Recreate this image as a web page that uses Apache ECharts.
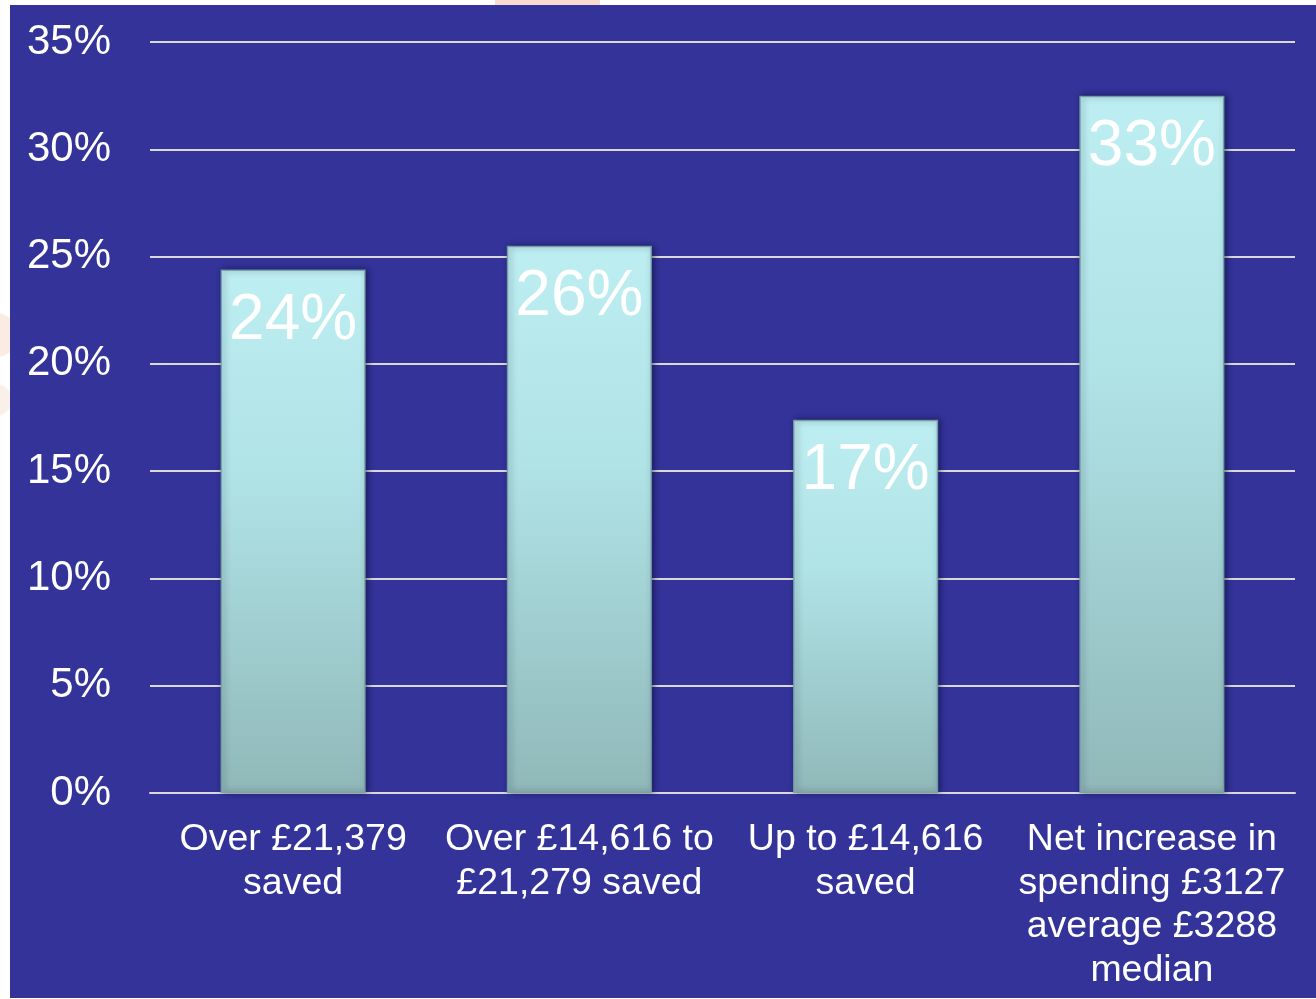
<!DOCTYPE html>
<html>
<head>
<meta charset="utf-8">
<title>Savings chart</title>
<script src="https://cdn.jsdelivr.net/npm/echarts@6/dist/echarts.min.js"></script>
<style>
  html, body { margin: 0; padding: 0; background: #ffffff; }
  #chart { width: 1316px; height: 999px; }
</style>
</head>
<body>
<div id="chart"></div>
<script>
const categories = [
  'Over £21,379\nsaved',
  'Over £14,616 to\n£21,279 saved',
  'Up to £14,616\nsaved',
  'Net increase in\nspending £3127\naverage £3288\nmedian'
]
const values = [24.4, 25.5, 17.4, 32.5]
const valueLabels = ['24%', '26%', '17%', '33%']
const yTicks = [0, 5, 10, 15, 20, 25, 30, 35]

const chart = echarts.init(document.getElementById('chart'))
const font = 'Liberation Sans, Arial, sans-serif'

const barColor = new echarts.graphic.LinearGradient(0, 0, 0, 1, [
  { offset: 0, color: '#bdeef1' },
  { offset: 0.4, color: '#b0e3e6' },
  { offset: 1, color: '#90b8b9' }
])

const option = {
  backgroundColor: '#ffffff',
  animation: false,
  graphic: [
    // slide background bits peeking out round the chart
    { type: 'rect', z: -10, shape: { x: 495, y: 0, width: 105, height: 6 }, style: { fill: '#f7dccf' } },
    { type: 'circle', z: -10, shape: { cx: -4, cy: 335, r: 22 }, style: { fill: '#f3d2c0', opacity: 0.45 } },
    { type: 'circle', z: -10, shape: { cx: -4, cy: 400, r: 16 }, style: { fill: '#f3d2c0', opacity: 0.35 } },
    { type: 'rect', z: -5, shape: { x: 10, y: 5, width: 1306, height: 993 }, style: { fill: '#333399' } }
  ],
  grid: {
    left: 150,
    right: 21,
    top: 42,
    bottom: 206
  },
  xAxis: {
    type: 'category',
    data: categories,
    axisLine: { show: true, lineStyle: { color: '#d9d9d9', width: 2 } },
    axisTick: { show: false },
    axisLabel: {
      color: '#ffffff',
      fontFamily: font,
      fontSize: 37.5,
      lineHeight: 43.5,
      margin: 25,
      interval: 0
    }
  },
  yAxis: {
    type: 'value',
    min: 0,
    max: 35,
    interval: 5,
    axisLine: { show: false },
    axisTick: { show: false },
    splitLine: { lineStyle: { color: '#d9d9d9', width: 2 } },
    axisLabel: {
      color: '#ffffff',
      fontFamily: font,
      fontSize: 42,
      margin: 39,
      formatter: v => (yTicks.includes(v) ? v + '%' : '')
    }
  },
  series: [
    {
      type: 'bar',
      data: values,
      barWidth: '50.7%',
      itemStyle: {
        color: barColor,
        borderColor: 'rgba(120,160,165,0.9)',
        borderWidth: 1.5,
        shadowColor: 'rgba(0,0,40,0.5)',
        shadowBlur: 6,
        shadowOffsetX: 2,
        shadowOffsetY: 0
      },
      label: {
        show: true,
        position: 'insideTop',
        distance: 20,
        color: '#ffffff',
        fontFamily: font,
        fontSize: 64,
        formatter: p => valueLabels[p.dataIndex]
      }
    }
  ]
}
chart.setOption(option)
</script>
</body>
</html>
